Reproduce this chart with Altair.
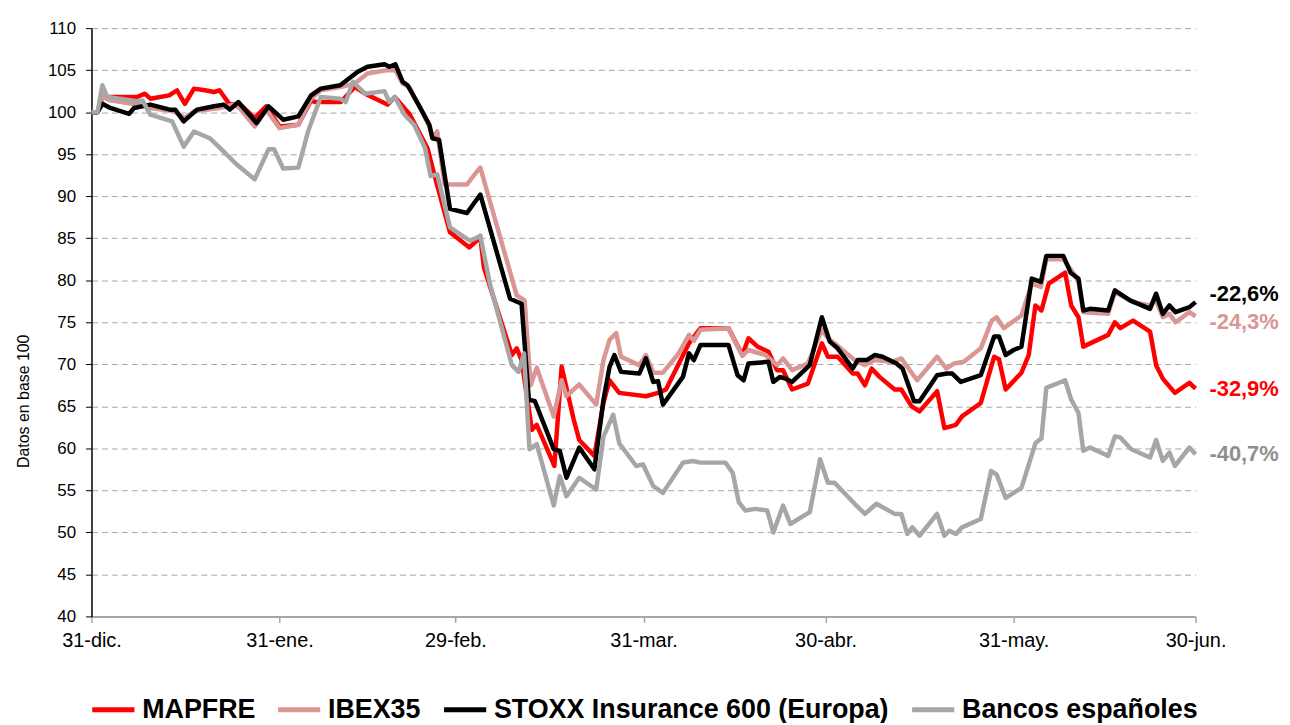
import json
import altair as alt
import pandas as pd

FONT = "Liberation Sans"

SERIES = ["MAPFRE", "IBEX35", "STOXX Insurance 600 (Europa)", "Bancos españoles"]
COLORS = ["#ff0000", "#d99694", "#000000", "#a6a6a6"]
LABEL_COLORS = ["#ff0000", "#d99694", "#000000", "#8f8f8f"]
END_LABELS = ["-32,9%", "-24,3%", "-22,6%", "-40,7%"]

# x = días transcurridos desde el 31-dic-2019
TICK_DAYS = [0, 31, 60, 91, 121, 152, 182]
TICK_LABELS = ["31-dic.", "31-ene.", "29-feb.", "31-mar.", "30-abr.", "31-may.", "30-jun."]
Y_TICKS = [40, 45, 50, 55, 60, 65, 70, 75, 80, 85, 90, 95, 100, 105, 110]

MAPFRE_DAYS = [0, 1, 1.8, 7.5, 8.8, 9.7, 12.8, 14.1, 15.4, 16.9, 18.7, 20.2, 21.1, 22.8, 24.4, 26.9, 28.8, 31.0,
               34.1, 36.2, 36.9, 41.1, 43.4, 45.1, 48.8, 50.0, 52.4, 55.4, 56.5, 59.1, 62.3, 64.1, 64.7, 69.3,
               70.1, 70.9, 72.6, 73.4, 76.3, 77.5, 79.5, 80.4, 82.9, 84.4, 85.4, 87.0, 91.4, 93.4, 94.7, 98.5,
               100.4, 105.0, 107.3, 108.3, 109.8, 111.6, 113.0, 114.0, 115.5, 118.1, 120.4, 121.4, 123.0, 125.5,
               126.3, 127.5, 128.6, 129.9, 132.4, 133.5, 135.2, 136.5, 139.4, 140.6, 142.5, 143.5, 146.6, 148.8,
               149.6, 150.7, 153.3, 154.5, 155.6, 156.6, 157.8, 160.5, 161.5, 162.7, 163.5, 167.6, 168.7, 169.6,
               171.7, 174.5, 175.5, 176.6, 178.6, 181.0, 182]
MAPFRE_VALS = [100, 100, 101.8, 101.8, 102.2, 101.6, 102.0, 102.6, 101.0, 102.8, 102.6, 102.4, 102.6, 100.9, 101.0,
               99.3, 100.7, 98.3, 98.5, 101.4, 101.2, 101.2, 103.0, 102.2, 100.9, 101.8, 99.8, 95.7, 92.6, 85.7,
               83.9, 85.1, 81.5, 71.1, 71.9, 70.5, 62.2, 62.8, 57.9, 69.7, 63.4, 61.0, 59.1, 65.4, 68.1, 66.6,
               66.2, 66.6, 67.0, 72.5, 74.3, 74.3, 71.1, 73.1, 72.1, 71.5, 69.3, 69.3, 67.0, 67.7, 72.5, 70.9,
               70.9, 68.9, 68.9, 67.5, 69.5, 68.5, 67.0, 67.0, 65.0, 64.4, 66.8, 62.4, 62.8, 63.8, 65.4, 70.9,
               70.6, 67.0, 69.0, 71.1, 77.0, 76.4, 79.6, 80.9, 77.0, 75.6, 72.1, 73.5, 75.0, 74.3, 75.2, 73.9,
               69.9, 68.3, 66.6, 67.8, 67.1]

IBEX_DAYS = [0, 1, 1.8, 3.1, 7.5, 9.7, 13.6, 15.4, 16.9, 21.1, 23.4, 24.4, 26.9, 28.8, 31.0, 34.1, 36.2, 37.8,
             41.0, 43.4, 45.5, 48.8, 50.1, 51.3, 52.4, 54.2, 55.7, 56.2, 57.0, 58.2, 61.9, 63.6, 64.1, 70.1, 71.4,
             72.4, 73.4, 76.2, 77.5, 78.3, 80.4, 83.2, 84.4, 85.4, 86.5, 87.3, 90.3, 91.4, 92.6, 94.2, 96.8, 98.5,
             99.3, 100.4, 105.0, 107.3, 108.3, 111.1, 113.0, 114.0, 115.5, 118.1, 120.4, 121.4, 122.5, 125.8,
             127.5, 129.1, 131.9, 133.5, 136.1, 139.4, 140.9, 142.2, 143.8, 146.6, 148.4, 149.2, 150.4, 153.3,
             155.0, 156.5, 157.4, 160.2, 161.9, 162.7, 163.5, 167.6, 168.7, 171.7, 174.5, 175.5, 176.6, 177.7,
             178.7, 181.0, 182]
IBEX_VALS = [100, 100, 101.8, 101.4, 100.9, 100.5, 100.1, 99.3, 100.1, 100.5, 100.9, 100.5, 98.3, 100.3, 98.1,
             98.5, 101.6, 102.6, 103.0, 103.4, 104.6, 105.0, 105.0, 103.4, 103.0, 100.5, 98.3, 97.0, 97.7, 91.4,
             91.4, 93.0, 93.4, 78.2, 77.6, 67.5, 69.6, 63.8, 68.1, 66.2, 67.6, 65.2, 70.5, 72.9, 73.7, 70.9, 69.9,
             71.1, 69.0, 69.0, 71.3, 73.5, 72.8, 74.1, 74.3, 71.0, 71.7, 71.1, 69.9, 70.7, 69.3, 70.1, 74.1, 73.1,
             72.5, 70.5, 69.9, 70.5, 70.3, 70.7, 68.1, 70.9, 69.5, 70.1, 70.3, 71.9, 75.2, 75.6, 74.3, 75.8, 79.6,
             79.2, 82.5, 82.5, 80.8, 79.8, 76.2, 76.0, 78.6, 77.4, 77.0, 77.6, 75.6, 76.0, 75.0, 76.2, 75.7]

STOXX_DAYS = [0, 1, 1.8, 3.1, 6.2, 7.0, 9.7, 12.9, 13.8, 15.2, 17.4, 20.2, 21.8, 22.8, 24.2, 27.2, 29.2, 31.6,
              34.1, 36.2, 37.8, 41.0, 43.9, 45.5, 48.3, 49.1, 50.1, 51.3, 52.1, 54.2, 55.7, 56.2, 57.3, 59.1, 61.9,
              64.1, 69.0, 70.9, 72.1, 73.1, 76.2, 77.2, 78.3, 80.4, 82.9, 84.4, 85.4, 86.2, 87.3, 90.3, 91.4, 92.6,
              93.4, 94.2, 97.5, 98.5, 99.3, 100.4, 105.0, 106.5, 107.5, 108.3, 111.6, 112.4, 113.5, 114.4, 115.5,
              118.4, 120.4, 121.7, 123.0, 125.5, 126.3, 127.8, 129.1, 130.4, 132.7, 133.7, 135.6, 136.5, 139.4,
              141.0, 141.9, 143.3, 146.6, 148.8, 149.6, 150.7, 152.0, 153.3, 155.0, 156.5, 157.4, 160.2, 161.4,
              162.7, 163.5, 164.6, 167.6, 168.7, 171.2, 174.5, 175.5, 176.6, 177.7, 178.7, 181.0, 182]
STOXX_VALS = [100, 100, 101.0, 100.5, 99.8, 100.5, 100.9, 100.3, 100.3, 98.9, 100.3, 100.7, 100.9, 100.3, 101.2,
              98.7, 100.7, 99.1, 99.5, 102.0, 102.8, 103.2, 104.8, 105.4, 105.7, 105.4, 105.7, 103.6, 103.2, 100.5,
              98.5, 96.9, 96.7, 88.5, 88.0, 90.2, 77.8, 77.2, 65.8, 65.6, 59.9, 59.7, 56.5, 60.1, 57.5, 65.8, 69.7,
              71.1, 69.1, 68.9, 70.7, 67.9, 68.0, 65.2, 68.5, 71.3, 70.5, 72.3, 72.3, 68.7, 68.1, 70.1, 70.3, 67.9,
              68.5, 68.3, 67.9, 69.9, 75.6, 72.7, 71.9, 69.5, 70.5, 70.5, 71.1, 70.9, 70.1, 69.5, 65.6, 65.6, 68.7,
              68.9, 68.9, 67.9, 68.7, 73.3, 73.3, 71.1, 71.7, 72.1, 80.2, 79.8, 82.9, 82.9, 80.9, 80.2, 76.4, 76.6,
              76.4, 78.8, 77.6, 76.6, 78.4, 76.0, 77.0, 76.2, 76.8, 77.4]

BANCOS_DAYS = [0, 1, 1.8, 2.6, 7.5, 8.4, 9.7, 13.3, 15.2, 16.9, 19.5, 21.8, 23.9, 26.9, 29.2, 30.1, 31.6, 34.1,
               35.7, 37.8, 41.0, 41.9, 43.1, 45.1, 48.3, 49.1, 50.0, 51.6, 53.2, 55.0, 55.9, 57.0, 59.1, 62.4, 63.6,
               64.1, 65.7, 69.3, 70.4, 71.3, 72.2, 73.4, 76.2, 77.2, 78.3, 80.4, 83.2, 84.4, 86.0, 87.0, 89.8, 90.9,
               92.6, 94.2, 97.5, 99.1, 100.4, 104.5, 105.7, 106.7, 107.8, 109.4, 111.4, 112.4, 114.0, 115.2, 118.4,
               120.1, 121.4, 122.5, 125.8, 127.5, 129.4, 132.4, 133.5, 134.5, 135.3, 136.5, 139.4, 140.6, 141.4,
               142.5, 143.5, 146.6, 148.3, 149.2, 150.7, 153.3, 155.6, 156.6, 157.4, 160.5, 161.5, 162.7, 163.5,
               164.6, 167.6, 168.7, 169.6, 171.4, 174.5, 175.5, 176.6, 177.7, 178.6, 181.0, 182]
BANCOS_VALS = [100, 100, 103.2, 101.8, 101.3, 101.4, 99.7, 98.9, 95.9, 97.7, 96.9, 95.3, 93.8, 92.0, 95.6, 95.6,
               93.3, 93.4, 97.7, 101.8, 101.6, 101.2, 103.6, 102.2, 102.5, 101.2, 101.8, 99.7, 98.5, 95.7, 92.4,
               92.6, 86.3, 84.7, 85.1, 85.3, 79.5, 69.9, 69.1, 71.3, 59.9, 60.5, 53.2, 56.7, 54.3, 56.5, 55.1, 61.4,
               64.0, 60.6, 57.9, 58.1, 55.5, 54.7, 58.3, 58.5, 58.3, 58.3, 57.1, 53.6, 52.6, 52.8, 52.6, 50.0, 53.2,
               51.0, 52.4, 58.7, 55.9, 55.9, 53.4, 52.2, 53.4, 52.2, 52.2, 49.8, 50.6, 49.6, 52.2, 49.6, 50.2, 49.8,
               50.6, 51.6, 57.3, 56.9, 54.1, 55.3, 60.6, 61.2, 67.2, 68.1, 65.8, 64.2, 59.7, 60.1, 59.1, 61.4, 61.3,
               59.9, 58.9, 61.0, 58.5, 59.5, 57.9, 60.1, 59.3]

ALL_DAYS = [MAPFRE_DAYS, IBEX_DAYS, STOXX_DAYS, BANCOS_DAYS]
ALL_VALS = [MAPFRE_VALS, IBEX_VALS, STOXX_VALS, BANCOS_VALS]

rows = []
for name, days, vals in zip(SERIES, ALL_DAYS, ALL_VALS):
    for d, v in zip(days, vals):
        rows.append({"serie": name, "dia": d, "valor": v})
df = pd.DataFrame(rows)

label_expr = "{}[indexof({}, datum.value)]".format(json.dumps(TICK_LABELS), json.dumps(TICK_DAYS))

x_enc = alt.X(
    "dia:Q",
    scale=alt.Scale(domain=[0, 182], nice=False, zero=False),
    axis=alt.Axis(values=TICK_DAYS, labelExpr=label_expr, title=None, grid=False, labelFlush=False,
                  domainColor="#a6a6a6", domainWidth=2, tickColor="#a6a6a6", tickWidth=1.5,
                  tickSize=6, labelFontSize=20, labelPadding=8, labelFont=FONT, labelColor="#000000"),
)
y_enc = alt.Y(
    "valor:Q",
    scale=alt.Scale(domain=[40, 110], nice=False, zero=False),
    axis=alt.Axis(values=Y_TICKS, title="Datos en base 100", grid=True, gridDash=[6, 4],
                  gridColor="#a6a6a6", gridWidth=1, domainColor="#000000", domainWidth=1.5,
                  tickColor="#000000", tickSize=6, labelFontSize=17, labelPadding=10, labelFont=FONT,
                  labelColor="#000000", titleFont=FONT, titleFontSize=16, titleFontWeight="normal",
                  titleColor="#000000", titleX=-60, titleY=375, titleAngle=-90, titleAlign="center"),
)

lines = alt.Chart(df).mark_line(strokeWidth=4.5, strokeJoin="round").encode(
    x=x_enc,
    y=y_enc,
    color=alt.Color(
        "serie:N",
        scale=alt.Scale(domain=SERIES, range=COLORS),
        sort=SERIES,
        legend=alt.Legend(title=None, orient="none", legendX=-2, legendY=662, direction="horizontal",
                          symbolType="stroke", symbolSize=1800, symbolStrokeWidth=5,
                          labelFontSize=27, labelFontWeight="bold", labelFont=FONT, labelColor="#000000",
                          labelOffset=5, columnPadding=12, labelLimit=0),
    ),
)

LABEL_DY = [0, 6, -8, 0]
texts = []
for name, vals, lbl, col, dy in zip(SERIES, ALL_VALS, END_LABELS, LABEL_COLORS, LABEL_DY):
    tdf = pd.DataFrame([{"dia": 182, "valor": vals[-1], "txt": lbl}])
    texts.append(
        alt.Chart(tdf).mark_text(align="left", baseline="middle", dx=14, dy=dy, fontSize=22,
                                 fontWeight="bold", font=FONT, color=col)
        .encode(x="dia:Q", y="valor:Q", text="txt:N")
    )

chart = alt.layer(lines, *texts).properties(
    width=1111,
    height=592,
    padding={"left": 84, "top": 18, "right": 87, "bottom": 105},
    autosize=alt.AutoSizeParams(type="none"),
).configure_view(stroke=None)

chart.save("out.html", embed_options={"renderer": "svg", "actions": False})
